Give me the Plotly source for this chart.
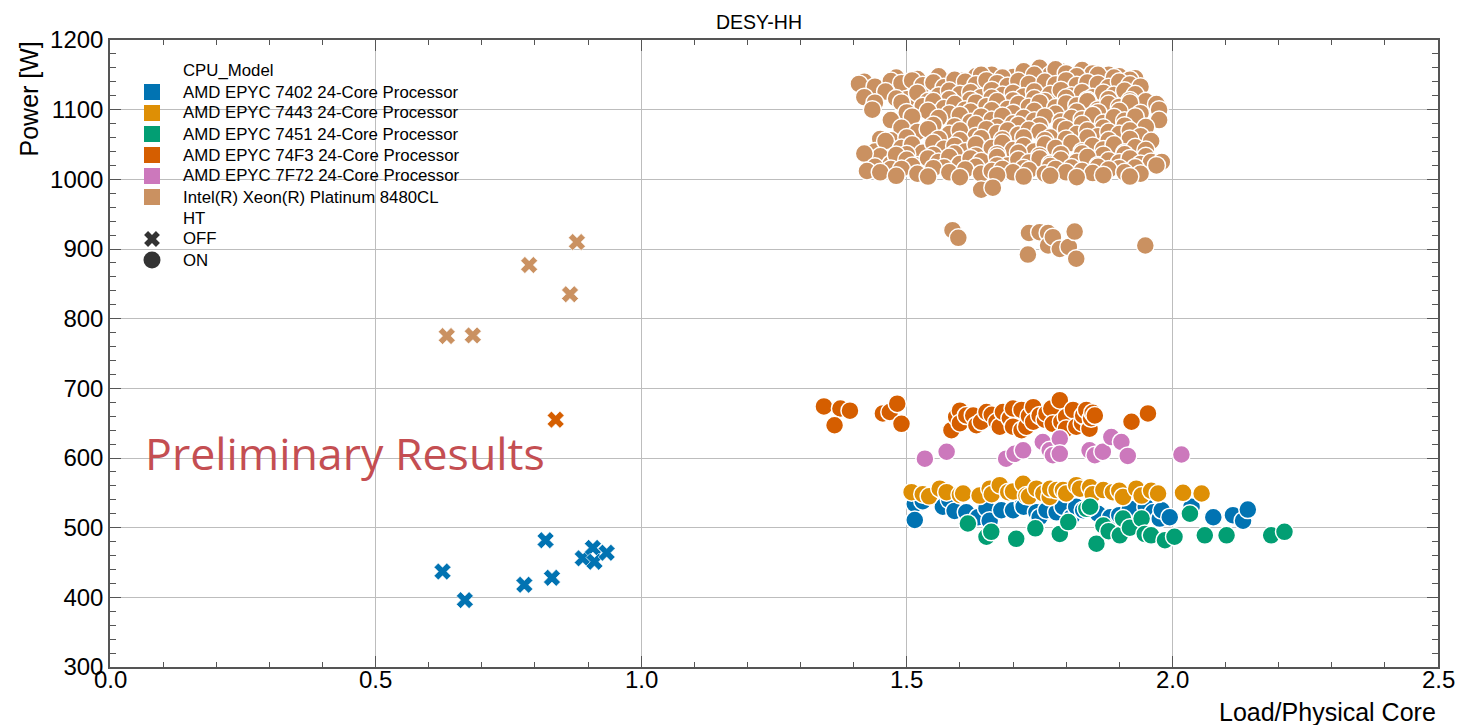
import plotly.graph_objects as go

# ---------------- data ----------------
models = [
    "AMD EPYC 7402 24-Core Processor",
    "AMD EPYC 7443 24-Core Processor",
    "AMD EPYC 7451 24-Core Processor",
    "AMD EPYC 74F3 24-Core Processor",
    "AMD EPYC 7F72 24-Core Processor",
    "Intel(R) Xeon(R) Platinum 8480CL",
]
colors = ["#0173b2", "#de8f05", "#029e73", "#d55e00", "#cc78bc", "#ca9161"]
ht_levels = ["OFF", "ON"]

# HT = OFF
x_7402_off = [0.626, 0.668, 0.780, 0.820, 0.832, 0.890, 0.909, 0.912, 0.935]
y_7402_off = [437, 396, 418, 482, 428, 456, 471, 451, 464]
x_74f3_off = [0.839]
y_74f3_off = [655]
x_intel_off = [0.634, 0.683, 0.789, 0.866, 0.879]
y_intel_off = [775, 776, 877, 835, 910]

# HT = ON
x_7402_on = [1.515, 1.515, 1.530, 1.568, 1.580, 1.590, 1.612, 1.634, 1.650, 1.656,
             1.678, 1.700, 1.719, 1.720, 1.744, 1.750, 1.763, 1.782, 1.794, 1.810,
             1.819, 1.832, 1.860, 1.883, 1.900, 1.920, 1.950, 1.964, 1.976, 1.980,
             1.995, 2.036, 2.077, 2.114, 2.133, 2.142]
y_7402_on = [534, 511, 538, 530, 540, 524, 522, 515, 528, 510,
             525, 525, 534, 530, 522, 515, 525, 522, 530, 515,
             530, 525, 520, 515, 518, 527, 530, 522, 513, 525,
             515, 530, 515, 518, 510, 526]

x_7443_on = [1.509, 1.530, 1.542, 1.562, 1.575, 1.600, 1.606, 1.637, 1.656, 1.660,
             1.675, 1.691, 1.700, 1.719, 1.725, 1.730, 1.744, 1.757, 1.769, 1.770,
             1.782, 1.794, 1.800, 1.819, 1.826, 1.845, 1.850, 1.870, 1.888, 1.900,
             1.907, 1.932, 1.942, 1.960, 1.973, 2.020, 2.055]
y_7443_on = [551, 548, 545, 556, 551, 547, 549, 546, 556, 548,
             561, 551, 552, 563, 546, 545, 556, 549, 544, 556,
             554, 554, 549, 561, 556, 558, 548, 554, 551, 553,
             544, 556, 546, 553, 549, 550, 549]

x_7451_on = [1.615, 1.650, 1.659, 1.706, 1.742, 1.788, 1.804, 1.838, 1.845, 1.857,
             1.870, 1.880, 1.901, 1.907, 1.920, 1.942, 1.948, 1.960, 1.986, 2.004,
             2.033, 2.061, 2.102, 2.186, 2.211]
y_7451_on = [506, 487, 494, 484, 499, 491, 508, 527, 530, 477,
             503, 495, 489, 513, 500, 513, 491, 489, 482, 487,
             520, 489, 489, 489, 494]

x_74f3_on = [1.344, 1.375, 1.393, 1.364, 1.455, 1.468, 1.482, 1.490, 1.584, 1.593,
             1.600, 1.600, 1.612, 1.625, 1.631, 1.640, 1.650, 1.660, 1.669, 1.675,
             1.681, 1.694, 1.700, 1.700, 1.716, 1.716, 1.725, 1.730, 1.738, 1.738,
             1.750, 1.760, 1.763, 1.772, 1.775, 1.788, 1.791, 1.800, 1.800, 1.813,
             1.819, 1.830, 1.832, 1.838, 1.844, 1.847, 1.850, 1.854, 1.923, 1.954]
y_74f3_on = [674, 671, 668, 647, 664, 666, 678, 649, 640, 659,
             668, 650, 661, 661, 647, 652, 666, 662, 652, 645,
             666, 657, 671, 645, 669, 640, 645, 660, 673, 652,
             661, 655, 664, 671, 649, 683, 652, 659, 642, 669,
             645, 650, 661, 669, 642, 657, 665, 661, 652, 664]

x_7f72_on = [1.534, 1.575, 1.687, 1.703, 1.719, 1.756, 1.769, 1.775, 1.788, 1.788,
             1.844, 1.854, 1.869, 1.885, 1.904, 1.916, 2.017]
y_7f72_on = [599, 609, 599, 606, 611, 623, 611, 604, 628, 606,
             611, 604, 609, 630, 623, 603, 605]

x_intel_on = [
    # ~1150 band
    1.63, 1.66, 1.70, 1.73, 1.75, 1.77, 1.79, 1.81, 1.83, 1.85, 1.88, 1.90, 1.93,
    # ~1145 band
    1.42, 1.45, 1.48, 1.52, 1.56, 1.60, 1.64, 1.68, 1.72, 1.74, 1.78, 1.80, 1.82,
    1.86, 1.89, 1.92,
    # ~1138 band
    1.41, 1.44, 1.47, 1.49, 1.51, 1.53, 1.55, 1.57, 1.59, 1.61, 1.63, 1.65, 1.67,
    1.69, 1.71, 1.73, 1.76, 1.78, 1.80, 1.82, 1.84, 1.86, 1.88, 1.90, 1.92, 1.94,
    # ~1122 band
    1.42, 1.46, 1.50, 1.52, 1.56, 1.58, 1.60, 1.62, 1.64, 1.66, 1.68, 1.70, 1.72,
    1.74, 1.77, 1.79, 1.81, 1.83, 1.85, 1.87, 1.89, 1.91, 1.93,
    # ~1113 band
    1.44, 1.48, 1.54, 1.58, 1.62, 1.66, 1.70, 1.74, 1.76, 1.80, 1.84, 1.88, 1.92, 1.95,
    # ~1105 band
    1.435, 1.49, 1.53, 1.55, 1.57, 1.59, 1.61, 1.63, 1.65, 1.67, 1.69, 1.71, 1.73,
    1.75, 1.78, 1.80, 1.82, 1.84, 1.86, 1.88, 1.90, 1.92, 1.97, 1.975,
    # ~1095 band
    1.50, 1.54, 1.58, 1.62, 1.66, 1.70, 1.74, 1.78, 1.82, 1.86, 1.90, 1.94,
    # ~1086 band
    1.47, 1.51, 1.56, 1.60, 1.62, 1.64, 1.66, 1.68, 1.70, 1.72, 1.74, 1.76, 1.79,
    1.81, 1.83, 1.85, 1.87, 1.89, 1.91, 1.93, 1.975,
    # ~1076 band
    1.49, 1.55, 1.59, 1.63, 1.67, 1.71, 1.75, 1.79, 1.83, 1.87, 1.91, 1.95,
    # ~1066 band
    1.45, 1.52, 1.54, 1.58, 1.60, 1.63, 1.65, 1.67, 1.69, 1.71, 1.73, 1.75, 1.77,
    1.80, 1.82, 1.84, 1.86, 1.88, 1.90, 1.92, 1.94,
    # ~1056 band
    1.47, 1.50, 1.56, 1.60, 1.64, 1.68, 1.72, 1.76, 1.80, 1.84, 1.88, 1.92, 1.96,
    # ~1046 band
    1.44, 1.46, 1.49, 1.51, 1.53, 1.55, 1.57, 1.59, 1.61, 1.63, 1.66, 1.68, 1.70,
    1.72, 1.74, 1.76, 1.78, 1.81, 1.83, 1.85, 1.87, 1.89, 1.91, 1.93, 1.95,
    # ~1035 band
    1.45, 1.50, 1.55, 1.59, 1.63, 1.67, 1.71, 1.75, 1.79, 1.83, 1.87, 1.91, 1.95,
    # ~1026 band
    1.42, 1.47, 1.48, 1.50, 1.52, 1.54, 1.56, 1.58, 1.60, 1.62, 1.64, 1.67, 1.69,
    1.71, 1.73, 1.75, 1.77, 1.79, 1.82, 1.84, 1.86, 1.88, 1.90, 1.92, 1.94, 1.96, 1.98,
    # ~1018 band
    1.44, 1.47, 1.51, 1.57, 1.63, 1.67, 1.72, 1.77, 1.81, 1.86, 1.90, 1.93, 1.97,
    # ~1011 band
    1.425, 1.45, 1.49, 1.52, 1.55, 1.58, 1.61, 1.64, 1.66, 1.68, 1.70, 1.73, 1.76,
    1.78, 1.80, 1.83, 1.85, 1.88, 1.91, 1.94,
    # ~1004 band
    1.48, 1.54, 1.60, 1.67, 1.72, 1.77, 1.82, 1.87, 1.92,
    # low outliers
    1.640, 1.662,
    # ~900-925 group
    1.586, 1.597, 1.730, 1.728, 1.750, 1.766, 1.766, 1.775, 1.788, 1.805, 1.816, 1.819, 1.949,
]
y_intel_on = [
    1148, 1150, 1147, 1152, 1160, 1150, 1155, 1146, 1157, 1152, 1150, 1148, 1145,
    1140, 1128, 1146, 1144, 1148, 1142, 1150, 1146, 1155, 1150, 1158, 1152, 1148,
    1150, 1146, 1143,
    1137, 1133, 1141, 1138, 1142, 1135, 1139, 1132, 1143, 1140, 1136, 1142, 1138,
    1134, 1141, 1137, 1140, 1136, 1142, 1135, 1139, 1137, 1132, 1140, 1136, 1133,
    1118, 1126, 1115, 1124, 1120, 1127, 1122, 1125, 1118, 1128, 1121, 1124, 1119,
    1126, 1122, 1128, 1120, 1125, 1118, 1124, 1121, 1127, 1122,
    1110, 1116, 1112, 1115, 1114, 1117, 1113, 1116, 1112, 1117, 1114, 1115, 1113, 1112,
    1100, 1110, 1105, 1112, 1102, 1108, 1100, 1110, 1105, 1112, 1101, 1108, 1104,
    1110, 1103, 1109, 1106, 1112, 1100, 1108, 1104, 1110, 1108, 1100,
    1096, 1098, 1094, 1097, 1099, 1095, 1098, 1094, 1097, 1096, 1098, 1095,
    1085, 1090, 1088, 1092, 1082, 1090, 1085, 1091, 1080, 1088, 1084, 1090, 1083,
    1088, 1086, 1092, 1081, 1089, 1084, 1090, 1085,
    1074, 1078, 1076, 1079, 1075, 1078, 1077, 1076, 1079, 1074, 1077, 1075,
    1058, 1068, 1072, 1065, 1070, 1062, 1072, 1066, 1070, 1064, 1071, 1068, 1060,
    1072, 1065, 1070, 1062, 1068, 1065, 1070, 1062,
    1056, 1060, 1058, 1056, 1059, 1057, 1060, 1056, 1058, 1060, 1056, 1058, 1055,
    1040, 1055, 1045, 1050, 1038, 1052, 1044, 1048, 1040, 1050, 1045, 1052, 1042,
    1048, 1040, 1050, 1045, 1052, 1040, 1048, 1043, 1050, 1038, 1046, 1042,
    1033, 1036, 1035, 1037, 1034, 1036, 1038, 1034, 1036, 1037, 1035, 1036, 1033,
    1037, 1022, 1035, 1028, 1020, 1030, 1025, 1032, 1022, 1030, 1026, 1032, 1020,
    1028, 1024, 1030, 1022, 1028, 1025, 1032, 1020, 1027, 1024, 1030, 1022, 1025, 1025,
    1018, 1015, 1019, 1017, 1018, 1020, 1016, 1019, 1017, 1018, 1016, 1017, 1020,
    1012, 1010, 1015, 1008, 1016, 1010, 1014, 1008, 1012, 1015, 1010, 1013, 1008,
    1015, 1010, 1012, 1009, 1014, 1010, 1008,
    1005, 1004, 1003, 1006, 1004, 1005, 1003, 1006, 1004,
    985, 988,
    927, 916, 923, 892, 924, 923, 905, 917, 900, 903, 925, 886, 905,
]

x_ticks = [0.0, 0.5, 1.0, 1.5, 2.0, 2.5]
x_tick_labels = ["0.0", "0.5", "1.0", "1.5", "2.0", "2.5"]
y_ticks = [300, 400, 500, 600, 700, 800, 900, 1000, 1100, 1200]

# ---------------- figure ----------------
FONT = "Liberation Sans, Arial, sans-serif"
fig = go.Figure()

def add_pts(xs, ys, color, ht):
    if ht == "ON":
        marker = dict(symbol="circle", size=18, color=color, opacity=1,
                      line=dict(color="white", width=1.5))
    else:
        marker = dict(symbol="x", size=15, color=color, opacity=1,
                      line=dict(color="white", width=0.6))
    fig.add_trace(go.Scatter(x=xs, y=ys, mode="markers", marker=marker,
                             showlegend=False, hoverinfo="x+y"))

# draw order: HT OFF first, then ON, by model
add_pts(x_7402_off, y_7402_off, colors[0], "OFF")
add_pts(x_74f3_off, y_74f3_off, colors[3], "OFF")
add_pts(x_intel_off, y_intel_off, colors[5], "OFF")
add_pts(x_7402_on, y_7402_on, colors[0], "ON")
add_pts(x_7443_on, y_7443_on, colors[1], "ON")
add_pts(x_7451_on, y_7451_on, colors[2], "ON")
add_pts(x_74f3_on, y_74f3_on, colors[3], "ON")
add_pts(x_7f72_on, y_7f72_on, colors[4], "ON")
add_pts(x_intel_on, y_intel_on, colors[5], "ON")

# ---------------- seaborn-style legend (overlay axis in plot-fraction units) ----------------
PL, PT, PW, PH = 110, 40, 1328, 627     # plot area in px
def px2fx(px):
    return (px - PL) / PW
def py2fy(py):
    return 1 - (py - PT) / PH

leg_labels = ["CPU_Model"] + models + ["HT"] + ht_levels
leg_symbols = [None] + ["square"] * 6 + [None, "x", "circle"]
leg_colors = [None] + colors + [None, "#333333", "#333333"]
leg_sizes = [0] + [16] * 6 + [0, 14, 17]
row_py = [70, 92, 113, 134, 155, 176, 197, 218, 239, 260]

for sym, col, sz, py in zip(leg_symbols, leg_colors, leg_sizes, row_py):
    if sym is None:
        continue
    fig.add_trace(go.Scatter(x=[px2fx(152)], y=[py2fy(py)], xaxis="x2", yaxis="y2",
                             mode="markers", opacity=1,
                             marker=dict(symbol=sym, color=col, size=sz, opacity=1,
                                         line=dict(width=0)),
                             showlegend=False, hoverinfo="skip", cliponaxis=False))

annotations = []
for lab, py in zip(leg_labels, row_py):
    annotations.append(dict(text=lab, xref="paper", yref="paper",
                            x=px2fx(181), y=py2fy(py), xanchor="left", yanchor="middle",
                            showarrow=False,
                            font=dict(family=FONT, size=16.8, color="black")))

# x tick labels placed just under the axis (as in the reference)
for v, lab in zip(x_ticks, x_tick_labels):
    annotations.append(dict(text=lab, xref="x", yref="paper", x=v, y=py2fy(679),
                            xanchor="center", yanchor="middle", showarrow=False,
                            font=dict(family=FONT, size=24, color="black")))

annotations += [
    dict(text="DESY-HH", xref="paper", yref="paper", x=px2fx(759), y=1,
         xanchor="center", yanchor="bottom", yshift=5, showarrow=False,
         font=dict(family=FONT, size=19.5, color="black")),
    dict(text="Power [W]", xref="paper", yref="paper", x=px2fx(28), y=1,
         xanchor="center", yanchor="top", textangle=-90, showarrow=False,
         font=dict(family=FONT, size=25, color="black")),
    dict(text="Load/Physical Core", xref="paper", yref="paper", x=1, y=py2fy(712),
         xanchor="right", yanchor="middle", showarrow=False,
         font=dict(family=FONT, size=25, color="black")),
    dict(text="Preliminary Results", xref="x", yref="y", x=0.062, y=608,
         xanchor="left", yanchor="middle", showarrow=False,
         font=dict(family="Open Sans, sans-serif", size=44.7, color="#c44e52")),
]

axis_common = dict(
    showline=True, linecolor="#555555", linewidth=1.5, mirror="allticks",
    ticks="inside", ticklen=11, tickwidth=1, tickcolor="#555555",
    showgrid=True, gridcolor="#bdbdbd", gridwidth=1,
    zeroline=False,
    tickfont=dict(family=FONT, size=24, color="black"),
)

fig.update_xaxes(range=[0, 2.5], tickvals=x_ticks, showticklabels=False,
                 minor=dict(ticks="inside", ticklen=5, tickcolor="#555555",
                            dtick=0.1, showgrid=False),
                 **axis_common)
fig.update_yaxes(range=[300, 1200], tickvals=y_ticks,
                 minor=dict(ticks="inside", ticklen=6, tickcolor="#555555",
                            dtick=20, showgrid=False),
                 **axis_common)

fig.update_layout(
    width=1457, height=725,
    margin=dict(l=110, r=19, t=40, b=58),
    plot_bgcolor="white", paper_bgcolor="white",
    font=dict(family=FONT, color="black"),
    showlegend=False,
    xaxis2=dict(overlaying="x", range=[0, 1], visible=False, fixedrange=True),
    yaxis2=dict(overlaying="y", range=[0, 1], visible=False, fixedrange=True),
    annotations=annotations,
)

fig.write_html("out.html")
